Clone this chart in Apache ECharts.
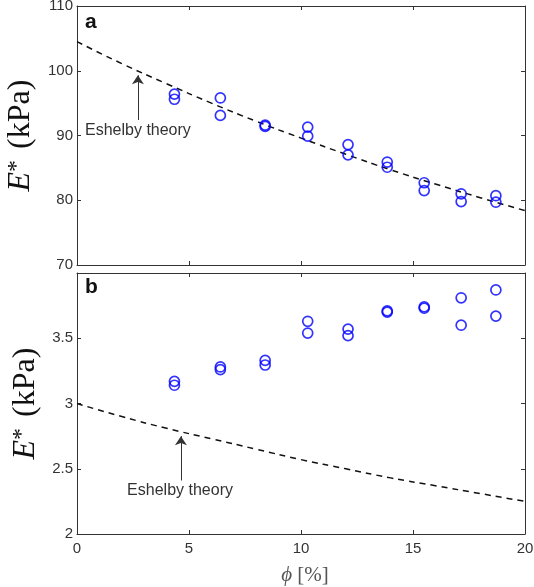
<!DOCTYPE html>
<html>
<head>
<meta charset="utf-8">
<script src="https://cdn.jsdelivr.net/npm/echarts@6/dist/echarts.min.js"></script>
<style>
html,body{margin:0;padding:0;background:#fff;}
#chart{width:534px;height:587px;}
</style>
</head>
<body>
<div id="chart"></div>
<script>
// Volume fraction (%) of the measured samples
const phi = [4.35, 6.4, 8.4, 10.3, 12.1, 13.85, 15.5, 17.15, 18.7];
// Panel a: two measurements per phi (kPa)
const topHigh = [96.4, 95.8, 91.6, 91.3, 88.6, 85.9, 82.7, 81.0, 80.7];
const topLow  = [95.6, 93.1, 91.4, 89.9, 87.0, 85.1, 81.5, 79.8, 79.7];
// Panel b: two measurements per phi (kPa)
const botHigh = [3.17, 3.28, 3.33, 3.63, 3.57, 3.71, 3.74, 3.81, 3.87];
const botLow  = [3.14, 3.26, 3.295, 3.54, 3.52, 3.70, 3.73, 3.60, 3.67];
// Eshelby theory curves
const theoryPhi = [0, 2, 4, 6, 8, 10, 12, 14, 16, 18, 20];
const theoryTop = [104.5, 101.1, 98.0, 95.0, 92.2, 89.6, 87.1, 84.7, 82.5, 80.4, 78.4];
const theoryBot = [3.0, 2.90, 2.81, 2.73, 2.65, 2.57, 2.50, 2.43, 2.37, 2.31, 2.25];
// Axis ranges / ticks
const xRange = [0, 20, 5];
const topRange = [70, 110, 10];
const botRange = [2, 4, 0.5];
const panelLabels = ['a', 'b'];
const annotationText = 'Eshelby theory';

const pairs = (xs, ys) => xs.map((x, i) => [x, ys[i]]);

const frameColor = '#333';
const labelFont = {fontFamily: 'Liberation Sans', fontSize: 15, color: '#333'};

function xAx(grid, pos, showLabels, withName) {
  const a = {
    type: 'value', gridIndex: grid, position: pos,
    min: xRange[0], max: xRange[1], interval: xRange[2],
    axisLine: {show: true, onZero: false, lineStyle: {color: frameColor, width: 1}},
    axisTick: {show: true, inside: true, length: 4, lineStyle: {color: frameColor}},
    axisLabel: Object.assign({show: showLabels, margin: 7}, labelFont),
    splitLine: {show: false}
  };
  if (withName) {
    a.name = '{p|ϕ} [%]';
    a.nameLocation = 'middle';
    a.nameGap = 31;
    a.nameTextStyle = {fontFamily: 'Liberation Serif', fontSize: 21, color: '#555', padding: [0, 0, 0, 8],
      rich: {p: {fontFamily: 'Liberation Serif', fontStyle: 'italic', fontSize: 21, color: '#555'}}};
  }
  return a;
}
function yAx(grid, pos, range, showLabels, withName) {
  const a = {
    type: 'value', gridIndex: grid, position: pos,
    min: range[0], max: range[1], interval: range[2],
    axisLine: {show: true, onZero: false, lineStyle: {color: frameColor, width: 1}},
    axisTick: {show: true, inside: true, length: 4, lineStyle: {color: frameColor}},
    axisLabel: Object.assign({show: showLabels, margin: 4}, labelFont),
    splitLine: {show: false}
  };
  if (withName) {
    a.name = '{e|E}{s|*} (kPa)';
    a.nameLocation = 'middle';
    a.nameRotate = 90;
    a.nameGap = 32;
    a.nameTextStyle = {fontFamily: 'Liberation Serif', fontSize: 32, color: '#111',
      rich: {
        e: {fontFamily: 'Liberation Serif', fontStyle: 'italic', fontSize: 32, color: '#111'},
        s: {fontFamily: 'Liberation Serif', fontSize: 24, color: '#111', verticalAlign: 'top', padding: [0, 3, 0, 0]}
      }};
  }
  return a;
}

const scatterStyle = {color: 'transparent', borderColor: '#0000ff', borderWidth: 1.7};

function scatter(xi, yi, data) {
  return {type: 'scatter', xAxisIndex: xi, yAxisIndex: yi, data: data,
    symbol: 'circle', symbolSize: 10, itemStyle: scatterStyle, z: 3};
}
function theory(xi, yi, data, arrowFrom, arrowTo, textAt) {
  return {
    type: 'line', xAxisIndex: xi, yAxisIndex: yi, data: data,
    showSymbol: false, smooth: true,
    lineStyle: {color: '#111', width: 1.5, type: [6, 5]},
    markLine: {
      silent: true, animation: false,
      symbol: ['none', 'arrow'], symbolSize: 9,
      lineStyle: {color: '#333', width: 1, type: 'solid'},
      itemStyle: {color: '#111'},
      label: {show: false},
      data: [[{coord: arrowFrom}, {coord: arrowTo}]]
    },
    markPoint: {
      silent: true, animation: false,
      symbol: 'circle', symbolSize: 1, itemStyle: {color: 'transparent'},
      label: {show: true, position: 'inside', formatter: annotationText,
        fontFamily: 'Liberation Sans', fontSize: 16, color: '#333'},
      data: [{coord: textAt}]
    }
  };
}

const chart = echarts.init(document.getElementById('chart'), null, {renderer: 'canvas'});
chart.setOption({
  animation: false,
  backgroundColor: '#fff',
  title: [
    {text: panelLabels[0], left: 80, top: 7, textStyle: {fontFamily: 'Liberation Sans', fontWeight: 'bold', fontSize: 21, color: '#111'}},
    {text: panelLabels[1], left: 80, top: 272, textStyle: {fontFamily: 'Liberation Sans', fontWeight: 'bold', fontSize: 21, color: '#111'}}
  ],
  grid: [
    {left: 77, top: 6, width: 448, height: 259, outerBoundsMode: 'none', containLabel: false},
    {left: 77, top: 273, width: 448, height: 261, outerBoundsMode: 'none', containLabel: false}
  ],
  xAxis: [
    xAx(0, 'bottom', false, false),
    xAx(0, 'top', false, false),
    xAx(1, 'bottom', true, true),
    xAx(1, 'top', false, false)
  ],
  yAxis: [
    yAx(0, 'left', topRange, true, true),
    yAx(0, 'right', topRange, false, false),
    yAx(1, 'left', botRange, true, true),
    yAx(1, 'right', botRange, false, false)
  ],
  series: [
    theory(0, 0, pairs(theoryPhi, theoryTop), [2.72, 92.4], [2.72, 99.3], [2.72, 90.7]),
    scatter(0, 0, pairs(phi, topHigh)),
    scatter(0, 0, pairs(phi, topLow)),
    theory(2, 2, pairs(theoryPhi, theoryBot), [4.64, 2.41], [4.64, 2.75], [4.6, 2.33]),
    scatter(2, 2, pairs(phi, botHigh)),
    scatter(2, 2, pairs(phi, botLow))
  ]
});
// hide the top "4" label of panel b (as in the reference)
chart.setOption({yAxis: [{}, {}, {axisLabel: {formatter: v => (v >= 4 ? '' : String(v))}}, {}]});
</script>
</body>
</html>
